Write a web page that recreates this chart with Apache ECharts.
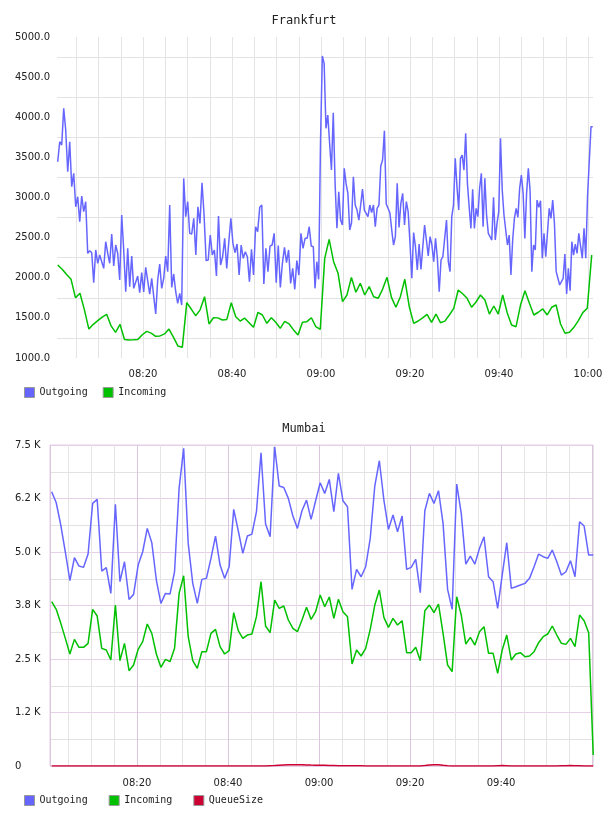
<!DOCTYPE html>
<html>
<head>
<meta charset="utf-8">
<script src="https://cdn.jsdelivr.net/npm/echarts@6/dist/echarts.min.js"></script>
<style>
  html, body { margin: 0; padding: 0; background: #fff; }
  #chart { width: 608px; height: 816px; }
</style>
</head>
<body>
<div id="chart"></div>
<script>
// sample times in minutes after 08:00: [first, last] of each run of samples
const frankOutRanges = [[0.83, 30.49], [30.94, 58.27], [58.65, 88.61], [88.99, 121.06]];
const frankInStart = 0.83, frankInStep = 1.0;
const mumbaiStart = 1.25, mumbaiStep = 1.0;

const frankOutA = [
  3446,3695,3654,4111,3841,3321,3695,3135,3301,2885,3010,2699,3018,2823,2948,2304,2337,2312,1939,2346,
  2180,2283,2271,2117,2449,2304,2180,2545,2146,2408,2304,1972,2782,2346,1826,2366,1889,2271,1868,1889,
  2022,1814,2063,1822,2130,2146,1797,1993,1980,1548,1972,2171,1868,1993,2271,2076,2906,1880,2047,1826,
  1681,1806,1660,3238,2761,2948,2553
];
const frankOutB = [
  2545,2740,2283,2885,2678,3184,2782,2213,2221,2532,2283,2346,2022,2769,2159,2262,2491,2117,2449,2740,
  2429,2312,2420,2034,2408,2242,2325,2262,1951,2354,2034,2636,2574,2877,2906,1922,2366,2076,2395,2408,
  2553,1939,2400,1880,2180,2379,2188,2346,1930,2117,1856,2213,2034,2553,2366,2491,2491,2636,2395,2387
];
const frankOutC = [
  1868,2200,1980,3675,4763,4671,3862,4028,3675,3342,4057,3176,2616,3072,2719,2657,3363,3176,3051,2595,
  2686,3259,2906,2844,2719,2906,3106,2844,2865,2761,2906,2811,2906,2636,2865,2906,3392,3467,3832,2919,
  2927,2811,2595,2408,2512,3176,2628,2927,3051,2657,2948,2823,2437,1993,2562,2387,2096,2420,2105,2117,
  2657,2470,2271,2512,2408,2200,2491,2242,1827,2221,2263,2263,2719,2200
];
const frankOutD = [
  2076,2761,2906,3488,3135,2844,3488,3529,3342,3799,3176,2885,2615,3101,2615,2865,2761,3114,3301,2636,
  3238,2782,2553,2561,2470,3002,2470,2678,2823,3737,3093,2782,2782,2408,2532,2034,2470,2740,2865,2753,
  3114,3280,3052,2491,3052,3363,3085,2076,2408,2346,2968,2877,2960,2242,2553,2262,2283,2865,2740,2968,
  2678,2076,1993,1910,1889,1993,2296,1797,2117,1839,2449,2283,2420,2304,2553,2545,2242,2615,2242,3010,
  3010,3882,3882
];

const frankIn = [
  2160,2105,2040,1980,1750,1806,1600,1360,1420,1465,1510,1544,1400,1320,1420,1230,1224,1226,1230,1290,
  1332,1310,1270,1275,1300,1360,1260,1150,1133,1690,1610,1527,1600,1764,1424,1502,1500,1473,1481,1689,
  1515,1461,1498,1440,1382,1569,1536,1432,1502,1445,1370,1457,1424,1350,1287,1445,1453,1502,1390,1357,
  2242,2479,2200,2055,1702,1785,2005,1819,1931,1785,1889,1764,1744,1856,2005,1756,1632,1764,1981,1639,
  1432,1461,1500,1544,1445,1548,1440,1460,1536,1619,1847,1800,1744,1632,1698,1785,1723,1548,1648,1548,
  1785,1565,1411,1390,1660,1839,1681,1536,1570,1611,1536,1632,1660,1424,1308,1320,1382,1465,1565,1619,
  2283
];

const mumbaiOut = [
  6408,6151,5629,5000,4329,4866,4672,4641,4952,6136,6229,4555,4633,4033,6112,4306,4773,3893,4010,4695,
  5006,5552,5217,4345,3800,4033,4018,4539,6486,7421,5201,4267,3800,4360,4384,4851,5373,4695,4384,4656,
  5995,5497,4968,5373,5419,5941,7319,5653,5357,7459,6541,6509,6253,5840,5552,5964,6213,5762,6198,6618,
  6369,6696,5941,6836,6198,6058,4126,4594,4422,4656,5318,6541,7132,6213,5528,5863,5474,5840,4594,4641,
  4828,4049,5964,6369,6136,6432,5669,4126,3659,6587,5902,4718,4905,4718,5084,5357,4422,4306,3683,4461,
  5217,4150,4189,4228,4267,4384,4656,4952,4890,4851,5046,4773,4461,4539,4797,4422,5708,5606,4929,4929
];

const mumbaiIn = [
  3839,3660,3333,2982,2617,2959,2772,2772,2866,3660,3504,2749,2710,2476,3761,2461,2866,2227,2359,2726,
  2905,3317,3099,2617,2305,2492,2437,2749,4033,4446,3021,2461,2282,2671,2671,3099,3193,2788,2617,2694,
  3582,3162,2982,3060,3084,3489,4306,3271,3115,3878,3683,3738,3411,3216,3138,3411,3707,3426,3605,3995,
  3722,3948,3450,3894,3605,3489,2383,2710,2570,2749,3193,3761,4111,3473,3239,3450,3294,3395,2648,2648,
  2772,2461,3629,3761,3582,3785,3099,2359,2204,3956,3528,2850,3006,2827,3138,3255,2632,2632,2165,2710,
  3060,2476,2617,2648,2554,2570,2671,2881,3021,3084,3271,3060,2866,2842,2982,2788,3528,3395,3115,257
];

const mumbaiQueue = [
  0,0,0,0,0,0,0,0,0,0, 0,0,0,0,0,0,0,0,0,0, 0,0,0,0,0,0,0,0,0,0, 0,0,0,0,0,0,0,0,0,0,
  0,0,0,0,0,0,0,0,5,10, 18,25,28,30,30,28,25,22,20,18, 15,12,10,8,6,5,5,4,3,2,
  0,0,0,0,0,0,0,0,0,0, 0,0,10,25,32,28,15,5,0,0, 0,0,0,0,0,0,0,0,8,12,
  6,0,0,0,0,0,0,0,0,0, 0,0,5,8,10,8,5,0,0,0
];

const mumbaiYLabels = ['0', '1.2 K', '2.5 K', '3.8 K', '5.0 K', '6.2 K', '7.5 K'];

const BLUE = '#6666ff', GREEN = '#00c000', RED = '#cc0033';

function withTimes(values, start, step) {
  return values.map((v, i) => [start + i * step, v]);
}

function runs(parts, ranges) {
  let out = [];
  parts.forEach((vals, k) => {
    const [a, b] = ranges[k];
    out = out.concat(withTimes(vals, a, (b - a) / (vals.length - 1)));
  });
  return out;
}

function clock(m) {
  const r = Math.round(m);
  if (Math.abs(m - r) > 0.01 || r % 20 !== 0) return '';
  const h = 8 + Math.floor(r / 60);
  const mm = r % 60;
  return String(h).padStart(2, '0') + ':' + String(mm).padStart(2, '0');
}

const labelFont = { fontFamily: 'DejaVu Sans', fontSize: 10, color: '#222' };
const monoFont = { fontFamily: 'DejaVu Sans Mono', fontSize: 10, color: '#222' };
const titleFont = { fontFamily: 'DejaVu Sans Mono', fontSize: 12, fontWeight: 'normal', color: '#222' };

const chart = echarts.init(document.getElementById('chart'));

chart.setOption({
  animation: false,
  title: [
    { text: 'Frankfurt', left: 'center', top: 15, padding: 0, textStyle: titleFont },
    { text: 'Mumbai', left: 'center', top: 423, padding: 0, textStyle: titleFont }
  ],
  legend: [
    { data: ['Outgoing', 'Incoming'], left: 24, top: 387, padding: 0, itemGap: 15,
      itemWidth: 10, itemHeight: 10, icon: 'rect',
      itemStyle: { borderColor: '#999', borderWidth: 1 }, textStyle: monoFont },
    { data: ['Outgoing', 'Incoming', 'QueueSize'], left: 24, top: 795, padding: 0, itemGap: 21,
      itemWidth: 10, itemHeight: 10, icon: 'rect',
      itemStyle: { borderColor: '#999', borderWidth: 1 }, textStyle: monoFont }
  ],
  grid: [
    { left: 57, right: 15, top: 37, height: 321 },
    { left: 50, right: 15, top: 445, height: 321, show: true, borderColor: '#e4cde6', borderWidth: 1 }
  ],
  xAxis: [
    {
      type: 'value', gridIndex: 0, min: 0.67, max: 121.12, splitNumber: 24,
      axisLine: { show: false }, axisTick: { show: false },
      axisLabel: Object.assign({ formatter: clock, margin: 11 }, labelFont),
      splitLine: { show: true, showMinLine: false, showMaxLine: false, lineStyle: { color: '#e4e4e4', width: 1 } }
    },
    {
      type: 'value', gridIndex: 1, min: 0.88, max: 120.2, splitNumber: 24,
      axisLine: { show: false }, axisTick: { show: false },
      axisLabel: Object.assign({ formatter: v => (v < 110 ? clock(v) : ''), margin: 12 }, labelFont),
      splitLine: { show: true, lineStyle: { color: ['#dcc6de', '#e4e4e4', '#e4e4e4', '#e4e4e4'], width: 1 } }
    }
  ],
  yAxis: [
    {
      type: 'value', gridIndex: 0, min: 1000, max: 5000, interval: 500,
      axisLine: { show: false }, axisTick: { show: false },
      axisLabel: Object.assign({ formatter: v => v.toFixed(1), align: 'left', margin: 42 }, labelFont),
      splitLine: { show: false },
      minorTick: { show: false, splitNumber: 2 },
      minorSplitLine: { show: true, lineStyle: { color: '#e2e2e2', width: 1 } }
    },
    {
      type: 'value', gridIndex: 1, min: 0, max: 7500, interval: 1250,
      axisLine: { show: false }, axisTick: { show: false },
      axisLabel: Object.assign({ formatter: v => mumbaiYLabels[Math.round(v / 1250)], align: 'left', margin: 35 }, labelFont),
      splitLine: { show: true, lineStyle: { color: '#e6d0e8', width: 1 } },
      minorTick: { show: false, splitNumber: 2 },
      minorSplitLine: { show: true, lineStyle: { color: '#e2e2e2', width: 1 } }
    }
  ],
  series: [
    { name: 'Outgoing', type: 'line', xAxisIndex: 0, yAxisIndex: 0, showSymbol: false,
      color: BLUE, lineStyle: { color: BLUE, width: 1.5 },
      data: runs([frankOutA, frankOutB, frankOutC, frankOutD], frankOutRanges) },
    { name: 'Incoming', type: 'line', xAxisIndex: 0, yAxisIndex: 0, showSymbol: false,
      color: GREEN, lineStyle: { color: GREEN, width: 1.5 },
      data: withTimes(frankIn, frankInStart, frankInStep) },
    { name: 'Outgoing', type: 'line', xAxisIndex: 1, yAxisIndex: 1, showSymbol: false,
      color: BLUE, lineStyle: { color: BLUE, width: 1.5 },
      data: withTimes(mumbaiOut, mumbaiStart, mumbaiStep) },
    { name: 'Incoming', type: 'line', xAxisIndex: 1, yAxisIndex: 1, showSymbol: false,
      color: GREEN, lineStyle: { color: GREEN, width: 1.5 },
      data: withTimes(mumbaiIn, mumbaiStart, mumbaiStep) },
    { name: 'QueueSize', type: 'line', xAxisIndex: 1, yAxisIndex: 1, showSymbol: false,
      color: RED, lineStyle: { color: RED, width: 1.5 },
      data: withTimes(mumbaiQueue, mumbaiStart, mumbaiStep) }
  ]
});
</script>
</body>
</html>
